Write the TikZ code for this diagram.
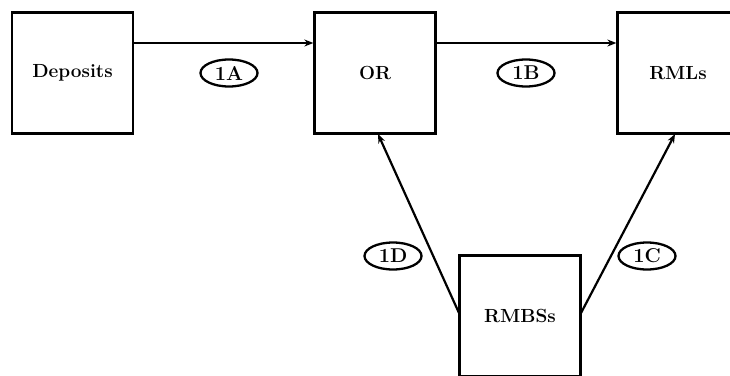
\documentclass[tikz,border=0pt]{standalone}
\usepackage{fontspec}
\usetikzlibrary{arrows.meta,shapes.geometric}
\begin{document}
\begin{tikzpicture}[x=1pt,y=-1pt,
  box/.style={draw,line width=2.3pt,minimum width=121pt,minimum height=121pt,
    inner sep=0pt,font=\fontsize{19}{22}\selectfont\bfseries},
  tag/.style={draw,ellipse,line width=2.3pt,minimum width=57pt,minimum height=27pt,
    inner sep=0pt,font=\fontsize{20}{23}\selectfont\bfseries},
  flow/.style={line width=2.2pt,-{Stealth[length=9pt,width=7pt]}}]
  \useasboundingbox (0,0) rectangle (730,375);
  % accounts
  \node[box] (dep) at (72.5,73) {Deposits};
  \node[box] (or) at (375,73) {OR};
  \node[box] (rml) at (678,73) {RMLs};
  \node[box] (rmbs) at (520,316) {RMBSs};
  % anchor points on the box edges
  \coordinate (orb) at (378,134);
  \coordinate (rmlb) at (675,134);
  \coordinate (rmbsl) at (459,313);
  \coordinate (rmbsr) at (581,313);
  % flows
  \draw[flow] (dep.east |- 0,43) -- (or.west |- 0,43);
  \draw[flow] (or.east |- 0,43) -- (rml.west |- 0,43);
  \draw[flow] (rmbsr) -- (rmlb);
  \draw[flow] (rmbsl) -- (orb);
  % flow tags
  \node[tag] (a) at (229,73) {1A};
  \node[tag] (b) at (526,73) {1B};
  \node[tag] (c) at (647,256) {1C};
  \node[tag] (d) at (393,256) {1D};
\end{tikzpicture}
\end{document}
